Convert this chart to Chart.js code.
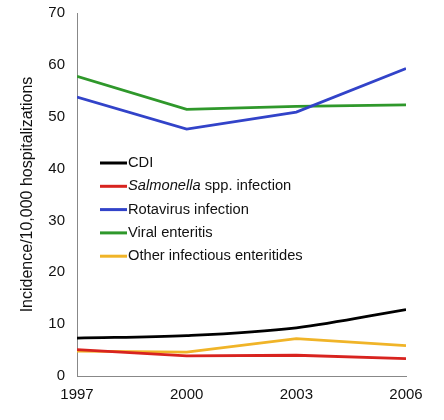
<!DOCTYPE html>
<html>
<head>
<meta charset="utf-8">
<script src="https://cdn.jsdelivr.net/npm/chart.js@4"></script>
<style>
  html, body { margin: 0; padding: 0; background: #fff; }
  #wrap { width: 444px; height: 420px; position: relative; }
</style>
</head>
<body>
<div id="wrap"><canvas id="chart"></canvas></div>
<script>
// data
const years = [1997, 2000, 2003, 2006];
const cdi = [7.3, 7.8, 9.3, 12.8];
const salmonella = [5.1, 3.9, 4.0, 3.35];
const rotavirus = [53.8, 47.6, 50.9, 59.3];
const viral = [57.8, 51.4, 52.0, 52.3];
const otherInf = [4.8, 4.6, 7.2, 5.85];
const yTicks = [0, 10, 20, 30, 40, 50, 60, 70];

const toPts = arr => arr.map((v, i) => ({ x: years[i], y: v }));

const series = [
  { label: 'CDI', data: cdi, color: '#000000', tension: 0.35 },
  { label: 'Salmonella', rest: ' spp. infection', italic: true, data: salmonella, color: '#d8231f', tension: 0 },
  { label: 'Rotavirus infection', data: rotavirus, color: '#3243c9', tension: 0 },
  { label: 'Viral enteritis', data: viral, color: '#2f982b', tension: 0 },
  { label: 'Other infectious enteritides', data: otherInf, color: '#f0b428', tension: 0 }
];

// legend drawn inside the plot area
const innerLegend = {
  id: 'innerLegend',
  afterDraw(chart) {
    const ctx = chart.ctx;
    const a = chart.chartArea;
    const x0 = a.left + 23;
    let y = a.top + 150;
    ctx.save();
    ctx.textBaseline = 'middle';
    series.forEach(s => {
      ctx.strokeStyle = s.color;
      ctx.lineWidth = 3;
      ctx.beginPath();
      ctx.moveTo(x0, y);
      ctx.lineTo(x0 + 27, y);
      ctx.stroke();
      ctx.fillStyle = '#111';
      let tx = x0 + 28;
      if (s.italic) {
        ctx.font = 'italic 14.7px "Liberation Sans", Arial, sans-serif';
        ctx.fillText(s.label, tx, y);
        tx += ctx.measureText(s.label).width;
        ctx.font = '14.7px "Liberation Sans", Arial, sans-serif';
        ctx.fillText(s.rest, tx, y);
      } else {
        ctx.font = '14.7px "Liberation Sans", Arial, sans-serif';
        ctx.fillText(s.label, tx, y);
      }
      y += 23.3;
    });
    ctx.restore();
  }
};

new Chart(document.getElementById('chart').getContext('2d'), {
  type: 'line',
  data: {
    datasets: series.map(s => ({
      label: s.label,
      data: toPts(s.data),
      borderColor: s.color,
      borderWidth: 2.8,
      pointRadius: 0,
      tension: s.tension,
      fill: false
    }))
  },
  options: {
    responsive: true,
    maintainAspectRatio: false,
    animation: false,
    layout: { padding: { left: 18, right: 38, top: 0, bottom: 0 } },
    plugins: {
      legend: { display: false },
      tooltip: { enabled: false }
    },
    scales: {
      x: {
        type: 'linear',
        min: 1997,
        max: 2006,
        afterBuildTicks: ax => { ax.ticks = years.map(v => ({ value: v })); },
        afterFit: ax => { ax.height = 44; },
        grid: { display: false, drawTicks: true, tickLength: 5, color: '#888' },
        border: { color: '#888', width: 1 },
        ticks: {
          color: '#111',
          font: { family: '"Liberation Sans", Arial, sans-serif', size: 15 },
          maxRotation: 0,
          padding: 5,
          callback: v => String(v)
        }
      },
      y: {
        min: 0,
        max: 70,
        afterBuildTicks: ax => { ax.ticks = yTicks.map(v => ({ value: v })); },
        afterFit: ax => { ax.width = 59; ax.paddingTop = 13; },
        grid: { display: false, drawTicks: true, tickLength: 5, color: '#888' },
        border: { color: '#888', width: 1 },
        ticks: {
          color: '#111',
          font: { family: '"Liberation Sans", Arial, sans-serif', size: 15 },
          padding: 7
        },
        title: {
          display: true,
          text: 'Incidence/10,000 hospitalizations',
          color: '#111',
          font: { family: '"Liberation Sans", Arial, sans-serif', size: 16 },
          padding: { top: 0, bottom: 6 }
        }
      }
    }
  },
  plugins: [innerLegend]
});
</script>
</body>
</html>
